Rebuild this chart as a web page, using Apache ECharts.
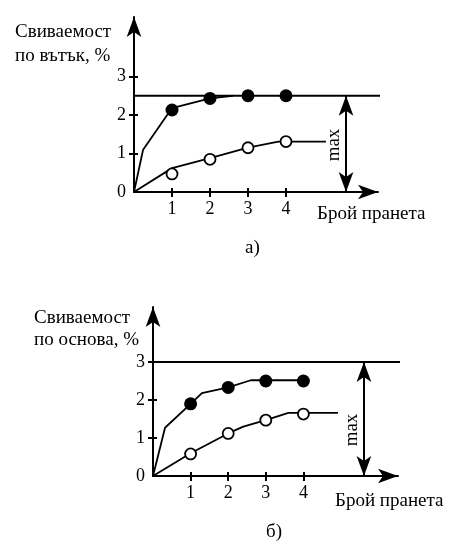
<!DOCTYPE html>
<html><head><meta charset="utf-8">
<script src="https://cdn.jsdelivr.net/npm/echarts@6/dist/echarts.min.js"></script>
<style>html,body{margin:0;padding:0;background:#fff}#c{width:451px;height:546px}</style>
</head><body><div id="c"></div>
<script>
// ---- data ----
const xTickValues = [1, 2, 3, 4];
const yTickValues = [1, 2, 3];
const yLabelValues = [0, 1, 2, 3];

// top chart (а) – weft
const topFilledPts = [[1, 2.13], [2, 2.43], [3, 2.5], [4, 2.5]];
const topFilledLine = [[0, 0], [0.24, 1.1], [1, 2.18], [2, 2.43], [2.6, 2.5]];
const topOpenPts = [[1, 0.47], [2, 0.85], [3, 1.15], [4, 1.31]];
const topOpenLine = [[0, 0], [1, 0.62], [2, 0.88], [3, 1.15], [3.8, 1.31], [5.05, 1.31]];
const topMax = 2.5;

// bottom chart (б) – warp
const botFilledPts = [[1, 1.9], [2, 2.33], [3, 2.5], [4, 2.5]];
const botFilledLine = [[0, 0], [0.32, 1.27], [1, 1.9], [1.3, 2.18], [2, 2.33], [2.6, 2.52], [4, 2.52]];
const botOpenPts = [[1, 0.58], [2, 1.12], [3, 1.47], [4, 1.63]];
const botOpenLine = [[0, 0], [1, 0.6], [2, 1.12], [2.4, 1.3], [3, 1.47], [3.6, 1.66], [4.92, 1.66]];
const botMax = 3;

const FONT = 'Liberation Serif';
const FS = 19;
const TFS = 18;

const chart = echarts.init(document.getElementById('c'), null, {renderer: 'canvas'});

function axisPair(kind, gridIndex, max, labelVals, tickVals) {
  const base = {
    type: 'value', gridIndex, min: 0, max,
    splitLine: {show: false},
  };
  const main = Object.assign({}, base, {
    axisLine: {show: true, symbol: ['none', 'arrow'], symbolSize: [11, 20],
      lineStyle: {color: '#000', width: 2}},
    axisTick: {show: true, inside: false, length: 5, customValues: tickVals,
      lineStyle: {color: '#000', width: 2}},
    axisLabel: {show: true, customValues: labelVals, color: '#000',
      fontFamily: FONT, fontSize: TFS, margin: kind === 'x' ? 8 : 8},
  });
  const twin = Object.assign({}, base, {
    axisLine: {show: false},
    axisTick: {show: true, inside: true, length: 4, customValues: tickVals,
      lineStyle: {color: '#000', width: 2}},
    axisLabel: {show: false},
  });
  if (kind === 'x') { main.position = 'bottom'; twin.position = 'bottom'; }
  else { main.position = 'left'; twin.position = 'left'; }
  return [main, twin];
}

const topX = axisPair('x', 0, 244 / 38, xTickValues, xTickValues);
const topY = axisPair('y', 0, 175 / 38.5, yLabelValues, yTickValues);
const botX = axisPair('x', 1, 245 / 37.6, xTickValues, xTickValues);
const botY = axisPair('y', 1, 169 / 38, yLabelValues, yTickValues);

function curve(data, xi, yi) {
  return {type: 'line', xAxisIndex: xi, yAxisIndex: yi, data, showSymbol: false,
    clip: false, silent: true, lineStyle: {color: '#000', width: 1.8}, z: 3};
}
function filled(data, xi, yi) {
  return {type: 'scatter', xAxisIndex: xi, yAxisIndex: yi, data, symbol: 'circle',
    symbolSize: 13, itemStyle: {color: '#000', opacity: 1}, silent: true, z: 5};
}
function open(data, xi, yi) {
  return {type: 'scatter', xAxisIndex: xi, yAxisIndex: yi, data, symbol: 'circle',
    symbolSize: 11, itemStyle: {color: '#fff', borderColor: '#000', borderWidth: 1.8, opacity: 1},
    silent: true, z: 5};
}
function maxLine(val, xEnd, arrowX, xi, yi) {
  return {type: 'line', xAxisIndex: xi, yAxisIndex: yi, data: [[0, val], [xEnd, val]],
    showSymbol: false, clip: false, silent: true, lineStyle: {color: '#000', width: 1.8}, z: 2,
    markLine: {silent: true, symbol: ['arrow', 'arrow'], symbolSize: [11, 20],
      lineStyle: {color: '#000', width: 2, type: 'solid'}, label: {show: false},
      data: [[{coord: [arrowX, val]}, {coord: [arrowX, 0]}]]}};
}

const textStyle = (t, x, y) => ({type: 'text', left: x, top: y,
  style: {text: t, font: FS + 'px "' + FONT + '"', fill: '#000'}});
const maxText = (x, y) => ({type: 'text', x, y, rotation: Math.PI / 2,
  style: {text: 'max', font: FS + 'px "' + FONT + '"', fill: '#000', align: 'center', verticalAlign: 'middle'}});

chart.setOption({
  animation: false,
  backgroundColor: '#fff',
  grid: [
    {left: 134, top: 17, width: 244, height: 175, outerBoundsMode: 'none', containLabel: false},
    {left: 153, top: 307, width: 245, height: 169, outerBoundsMode: 'none', containLabel: false}
  ],
  xAxis: [topX[0], topX[1], botX[0], botX[1]],
  yAxis: [topY[0], topY[1], botY[0], botY[1]],
  series: [
    maxLine(topMax, 6.53, 5.58, 0, 0),
    curve(topFilledLine, 0, 0),
    curve(topOpenLine, 0, 0),
    filled(topFilledPts, 0, 0),
    open(topOpenPts, 0, 0),
    maxLine(botMax, 6.6, 5.61, 2, 2),
    curve(botFilledLine, 2, 2),
    curve(botOpenLine, 2, 2),
    filled(botFilledPts, 2, 2),
    open(botOpenPts, 2, 2)
  ],
  graphic: [
    textStyle('Свиваемост', 15, 23),
    textStyle('по вътък, %', 15, 47),
    textStyle('Брой пранета', 317, 205),
    textStyle('а)', 245, 239),
    maxText(334, 145),
    textStyle('Свиваемост', 34, 309),
    textStyle('по основа, %', 34, 331),
    textStyle('Брой пранета', 335, 492),
    textStyle('б)', 266, 523),
    maxText(352, 430)
  ]
});
</script></body></html>
